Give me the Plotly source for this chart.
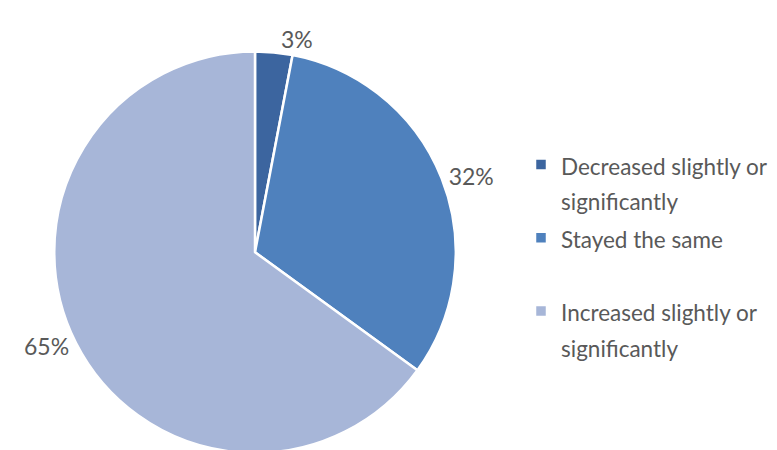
import plotly.graph_objects as go

legend_text = [["Decreased slightly or", "significantly"], ["Stayed the same", " "], ["Increased slightly or", "significantly"]]
values = [3, 32, 65]
colors = ["#3C659F", "#4F81BD", "#A7B6D8"]

labels = ["<br>".join('<span style="font-size:22.5px">%s</span>' % t for t in lines) for lines in legend_text]

W, H = 777, 450
# the page body adds an 8px offset; positions below are in figure pixels
cx, cy, r = 247, 247, 203

fig = go.Figure(go.Pie(
    labels=labels,
    values=values,
    sort=False,
    direction="clockwise",
    rotation=0,
    marker=dict(colors=colors, line=dict(color="white", width=2.5)),
    textinfo="percent",
    texttemplate="%{percent:.0%}",
    textposition="outside",
    outsidetextfont=dict(color="#595959", size=23, family="Lato"),
    domain=dict(x=[(cx - r) / W, (cx + r) / W], y=[(H - cy - r) / H, (H - cy + r) / H]),
    hoverinfo="percent",
))

fig.update_layout(
    width=W, height=H,
    margin=dict(l=0, r=0, t=0, b=0),
    paper_bgcolor="white",
    font=dict(family="Lato", color="#595959", size=23),
    legend=dict(x=513 / W, y=(H - 134) / H, xanchor="left", yanchor="top",
                valign="top",
                font=dict(size=27, color="#595959", family="Lato"),
                itemclick=False, itemdoubleclick=False),
    showlegend=True,
)

fig.write_html("out.html")
